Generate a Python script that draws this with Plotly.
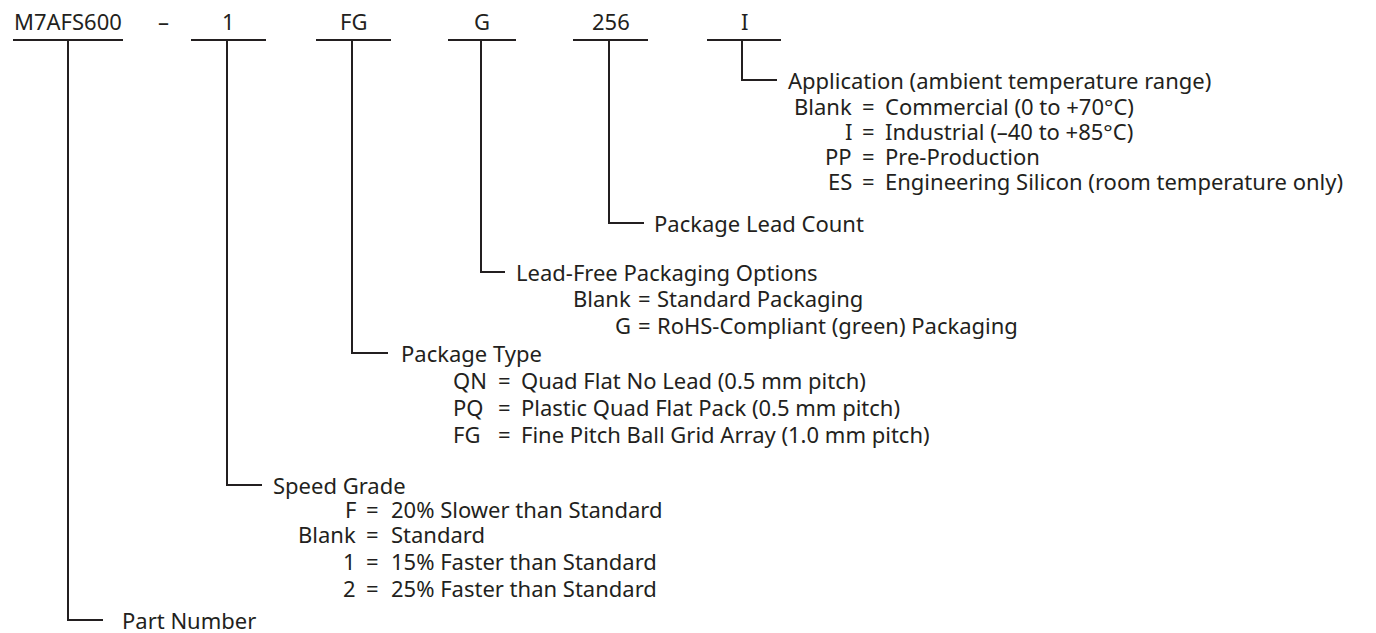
import plotly.graph_objects as go

# ---------------- data ----------------
codes = ["M7AFS600", "1", "FG", "G", "256", "I"]
separator = "–"
field_titles = [
    "Part Number",
    "Speed Grade",
    "Package Type",
    "Lead-Free Packaging Options",
    "Package Lead Count",
    "Application (ambient temperature range)",
]

speed_keys = ["F", "Blank", "1", "2"]
speed_desc = ["20% Slower than Standard", "Standard",
              "15% Faster than Standard", "25% Faster than Standard"]

package_keys = ["QN", "PQ", "FG"]
package_desc = ["Quad Flat No Lead (0.5 mm pitch)",
                "Plastic Quad Flat Pack (0.5 mm pitch)",
                "Fine Pitch Ball Grid Array (1.0 mm pitch)"]

leadfree_keys = ["Blank", "G"]
leadfree_desc = ["Standard Packaging", "RoHS-Compliant (green) Packaging"]

count_keys = []
count_desc = []

app_keys = ["Blank", "I", "PP", "ES"]
app_desc = ["Commercial (0 to +70°C)", "Industrial (–40 to +85°C)",
            "Pre-Production", "Engineering Silicon (room temperature only)"]

option_keys = [[], speed_keys, package_keys, leadfree_keys, count_keys, app_keys]
option_desc = [[], speed_desc, package_desc, leadfree_desc, count_desc, app_desc]

# ---------------- layout (pixel positions in the 1376x633 picture) ----------------
W, H = 1376, 633
PAGE_OFFSET = 8  # default body margin of the html page
code_y = 21
bar_y = 40
bar_left = [13, 191, 316, 448, 573, 707]
bar_right = [123, 266, 391, 516, 648, 781]
stem_x = [68, 227, 352, 481, 609, 742]
elbow_y = [620, 485, 353, 272, 223, 80]
elbow_end = [103, 262, 388, 505, 644, 777]
title_x = [121, 272, 400, 515, 653, 787]
sep_x = 163

# per-field option columns: key x, key anchor, "=" x, desc x, row y's
opt_key_x = [None, 357, 452, 632, None, 853]
opt_key_anchor = [None, "right", "left", "right", None, "right"]
opt_eq_x = [None, 372, 504, 644, None, 868]
opt_desc_x = [None, 390, 520, 656, None, 884]
opt_rows = [
    [],
    [509, 534, 561, 588],
    [380, 407, 434],
    [298, 325],
    [],
    [106, 131, 156, 181],
]

FONT = "Noto Sans"
FS = 22
TXT = "#231f20"
LINE = "#231f20"
LW = 2

fig = go.Figure()

fig.add_trace(go.Scatter(x=[0, W], y=[0, H], mode="markers",
                         marker=dict(opacity=0), hoverinfo="skip",
                         showlegend=False))

shapes = []
annotations = []

def txt(x, y, s, anchor="left"):
    annotations.append(dict(x=x, y=y, xref="x", yref="y", text=s,
                            showarrow=False, xanchor=anchor, yanchor="middle",
                            borderpad=0,
                            font=dict(family=FONT, size=FS, color=TXT)))

for i, code in enumerate(codes):
    cx = (bar_left[i] + bar_right[i]) / 2
    txt(cx, code_y, code, "center")
    shapes.append(dict(type="line", xref="x", yref="y",
                       x0=bar_left[i], x1=bar_right[i], y0=bar_y, y1=bar_y,
                       line=dict(color=LINE, width=LW)))
    shapes.append(dict(type="path", xref="x", yref="y",
                       path=f"M {stem_x[i]},{bar_y} L {stem_x[i]},{elbow_y[i]} L {elbow_end[i]},{elbow_y[i]}",
                       line=dict(color=LINE, width=LW)))
    txt(title_x[i], elbow_y[i], field_titles[i], "left")
    for j, (k, d) in enumerate(zip(option_keys[i], option_desc[i])):
        y = opt_rows[i][j]
        txt(opt_key_x[i], y, k, opt_key_anchor[i])
        txt(opt_eq_x[i], y, "=", "center")
        txt(opt_desc_x[i], y, d, "left")

txt(sep_x, code_y, separator, "center")

fig.update_layout(
    width=W, height=H,
    margin=dict(l=0, r=0, t=0, b=0),
    paper_bgcolor="white", plot_bgcolor="white",
    xaxis=dict(range=[PAGE_OFFSET, W + PAGE_OFFSET], visible=False, fixedrange=True),
    yaxis=dict(range=[H + PAGE_OFFSET, PAGE_OFFSET], visible=False, fixedrange=True),
    shapes=shapes, annotations=annotations,
    showlegend=False,
)

fig.write_html("out.html")
